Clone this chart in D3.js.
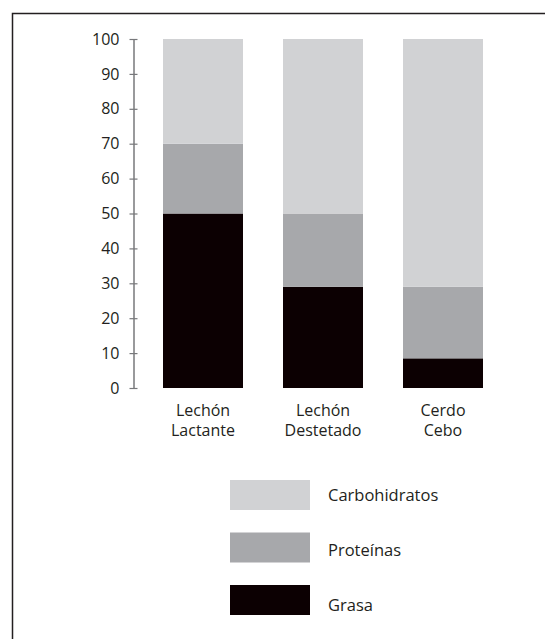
<!DOCTYPE html>
<html>
<head>
<meta charset="utf-8">
<script src="https://cdn.jsdelivr.net/npm/d3@7"></script>
<style>
  body { margin: 0; background: #fff; }
  text { font-family: "Open Sans", Lato, sans-serif; fill: #231f20; }
</style>
</head>
<body>
<div id="chart"></div>
<script>
// DATA
const categories = [["Lechón", "Lactante"], ["Lechón", "Destetado"], ["Cerdo", "Cebo"]];
const series = ["Grasa", "Proteínas", "Carbohidratos"];
const grasa = [50, 29, 8.5];
const proteinas = [20, 21, 20.5];
const carbohidratos = [30, 50, 71];
const yTicks = [0, 10, 20, 30, 40, 50, 60, 70, 80, 90, 100];
const colors = ["#0c0002", "#a7a8ab", "#d1d2d4"];

const width = 545;
const height = 639;

const svg = d3.select("#chart")
  .append("svg")
  .attr("width", width)
  .attr("height", height);

// FRAME (top + left)
svg.append("path")
  .attr("d", `M12.5,${height} V13.5 H${width}`)
  .attr("fill", "none")
  .attr("stroke", "#231f20")
  .attr("stroke-width", 1.5);

// STACK
const rows = categories.map((c, i) => ({
  key: i,
  Grasa: grasa[i],
  "Proteínas": proteinas[i],
  Carbohidratos: carbohidratos[i]
}));
const stacked = d3.stack().keys(series)(rows);

// SCALES
const x = d3.scaleBand()
  .domain(categories.map((c, i) => i))
  .range([143, 503])
  .paddingInner(1 / 3)
  .paddingOuter(1 / 6);

const y = d3.scaleLinear()
  .domain([0, 100])
  .range([388, 39]);

const color = d3.scaleOrdinal().domain(series).range(colors);

// BARS
svg.append("g")
  .selectAll("g")
  .data(stacked)
  .enter()
  .append("g")
  .attr("fill", d => color(d.key))
  .selectAll("rect")
  .data(d => d)
  .enter()
  .append("rect")
  .attr("x", d => x(d.data.key))
  .attr("width", x.bandwidth())
  .attr("y", d => y(d[1]))
  .attr("height", d => y(d[0]) - y(d[1]));

// Y AXIS
const axis = svg.append("g")
  .attr("transform", "translate(133.5,0)")
  .call(d3.axisLeft(y).tickValues(yTicks).tickSize(4).tickSizeOuter(0).tickPadding(10));

axis.select(".domain").attr("stroke", "#77787b").attr("stroke-width", 1.5);
axis.selectAll(".tick line")
  .attr("stroke", "#77787b")
  .attr("stroke-width", 1.2)
  .attr("x1", 4);
axis.selectAll(".tick text")
  .style("font-family", "'Open Sans', Lato, sans-serif")
  .style("font-size", "16px")
  .attr("fill", "#231f20");

// CATEGORY LABELS (one text per line)
const catG = svg.append("g")
  .selectAll("g")
  .data(categories)
  .enter()
  .append("g")
  .attr("transform", (d, i) => `translate(${x(i) + x.bandwidth() / 2},0)`);

catG.selectAll("text")
  .data(d => d)
  .enter()
  .append("text")
  .attr("y", (d, j) => 416 + j * 20)
  .attr("text-anchor", "middle")
  .style("font-size", "16px")
  .text(d => d);

// LEGEND
const legendItems = series.slice().reverse();
const legend = svg.append("g")
  .attr("transform", "translate(230,480)");

const item = legend.selectAll("g")
  .data(legendItems)
  .enter()
  .append("g")
  .attr("transform", (d, i) => `translate(0,${i * 52.5})`);

item.append("rect")
  .attr("width", 80)
  .attr("height", 30)
  .attr("fill", d => color(d));

item.append("text")
  .attr("x", 98)
  .attr("y", (d, i) => 21 + i * 2.5)
  .style("font-size", "16.5px")
  .text(d => d);
</script>
</body>
</html>
